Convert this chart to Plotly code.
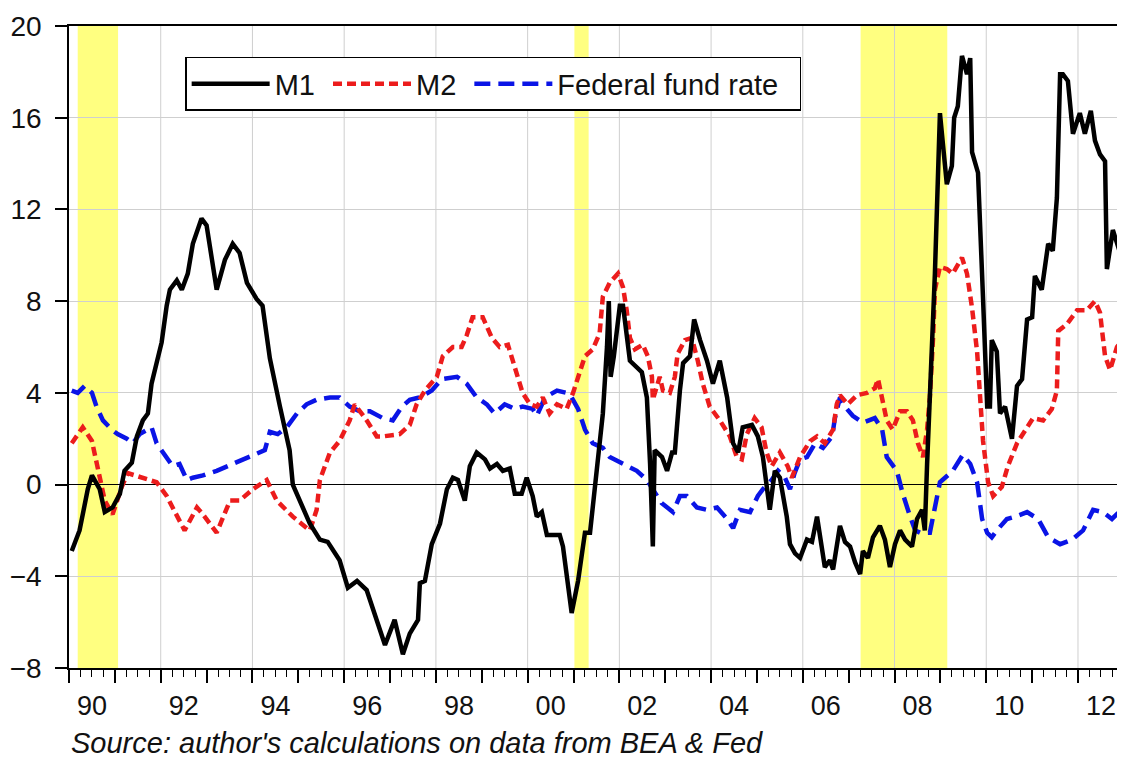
import plotly.graph_objects as go

# ---- data (decimal years, percent) ----
m1_t = [1990.06, 1990.23, 1990.41, 1990.50, 1990.67, 1990.78, 1990.95, 1991.11, 1991.21, 1991.37,
        1991.48, 1991.61, 1991.72, 1991.80, 1991.91, 1992.02, 1992.13, 1992.20, 1992.35, 1992.46,
        1992.59, 1992.70, 1992.89, 1993.00, 1993.22, 1993.40, 1993.57, 1993.72, 1993.88, 1994.09,
        1994.22, 1994.38, 1994.60, 1994.81, 1994.88, 1994.99, 1995.25, 1995.47, 1995.64, 1995.90,
        1996.08, 1996.28, 1996.49, 1996.89, 1997.10, 1997.28, 1997.43, 1997.61, 1997.65, 1997.76,
        1997.91, 1998.09, 1998.24, 1998.37, 1998.48, 1998.63, 1998.74, 1998.89, 1999.07, 1999.18,
        1999.33, 1999.46, 1999.61, 1999.72, 1999.87, 1999.98, 2000.11, 2000.20, 2000.31, 2000.42,
        2000.70, 2000.77, 2000.96, 2001.10, 2001.25, 2001.36, 2001.42, 2001.53, 2001.64, 2001.73,
        2001.77, 2001.81, 2001.88, 2002.01, 2002.08, 2002.23, 2002.40, 2002.49, 2002.60, 2002.67,
        2002.73, 2002.77, 2002.93, 2003.04, 2003.15, 2003.21, 2003.32, 2003.39, 2003.54, 2003.63,
        2003.76, 2003.91, 2004.04, 2004.19, 2004.35, 2004.48, 2004.59, 2004.69, 2004.89, 2005.02,
        2005.13, 2005.28, 2005.39, 2005.50, 2005.65, 2005.72, 2005.83, 2005.94, 2006.09, 2006.20,
        2006.31, 2006.42, 2006.48, 2006.59, 2006.66, 2006.81, 2006.92, 2007.03, 2007.14, 2007.25,
        2007.31, 2007.42, 2007.53, 2007.68, 2007.79, 2007.90, 2008.01, 2008.12, 2008.23, 2008.38,
        2008.49, 2008.60, 2008.66, 2008.71, 2008.77, 2008.88, 2008.99, 2009.14, 2009.25, 2009.30,
        2009.38, 2009.47, 2009.58, 2009.65, 2009.69, 2009.82, 2009.93, 2010.02, 2010.08, 2010.12,
        2010.23, 2010.30, 2010.41, 2010.56, 2010.67, 2010.78, 2010.89, 2011.00, 2011.06, 2011.21,
        2011.35, 2011.45, 2011.54, 2011.61, 2011.67, 2011.78, 2011.89, 2012.04, 2012.15, 2012.28,
        2012.37, 2012.48, 2012.59, 2012.63, 2012.76, 2012.92, 2013.00]
m1_v = [-2.9, -2.0, -0.2, 0.4, -0.2, -1.2, -1.0, -0.4, 0.6, 0.95,
        2.1, 2.8, 3.1, 4.4, 5.3, 6.2, 7.8, 8.5, 8.9, 8.5,
        9.2, 10.5, 11.6, 11.3, 8.5, 9.8, 10.5, 10.1, 8.8, 8.1,
        7.8, 5.5, 3.4, 1.5, 0.0, -0.5, -1.7, -2.4, -2.5, -3.3,
        -4.5, -4.2, -4.6, -7.0, -5.9, -7.4, -6.5, -5.9, -4.3, -4.2,
        -2.6, -1.7, -0.2, 0.3, 0.2, -0.7, 0.8, 1.4, 1.1, 0.7,
        0.9, 0.6, 0.7, -0.4, -0.4, 0.3, -0.5, -1.4, -1.2, -2.2,
        -2.2, -2.7, -5.6, -4.2, -2.1, -2.1, -1.0, 0.8, 3.1, 6.0,
        8.0, 4.7, 5.6, 7.8, 7.8, 5.4, 5.1, 4.9, 3.8, 0.9,
        -2.7, 1.5, 1.2, 0.6, 1.4, 1.4, 4.1, 5.3, 5.6, 7.2,
        6.3, 5.4, 4.4, 5.4, 3.8, 1.8, 1.4, 2.5, 2.6, 2.1,
        1.2, -1.1, 0.6, 0.3, -1.4, -2.6, -3.0, -3.2, -2.4, -2.5,
        -1.4, -2.7, -3.6, -3.3, -3.7, -1.8, -2.5, -2.7, -3.4, -3.9,
        -2.9, -3.2, -2.3, -1.8, -2.4, -3.6, -2.6, -2.0, -2.4, -2.7,
        -1.5, -1.1, -2.0, 0.9, 3.8, 9.2, 16.2, 13.1, 13.9, 16.0,
        16.5, 18.7, 17.9, 18.6, 14.5, 13.6, 8.1, 3.4, 3.4, 6.3,
        5.8, 3.1, 3.4, 2.0, 4.3, 4.6, 7.2, 7.3, 9.1, 8.5,
        10.5, 10.2, 12.5, 17.9, 17.9, 17.6, 15.3, 16.2, 15.3, 16.3,
        15.0, 14.4, 14.1, 9.4, 11.1, 10.1, 11.4]

m2_t = [1990.06, 1990.30, 1990.50, 1990.67, 1990.78, 1990.95, 1991.15, 1991.28, 1991.61, 1991.91,
        1992.13, 1992.52, 1992.79, 1992.92, 1993.22, 1993.51, 1993.72, 1994.01, 1994.31, 1994.53,
        1994.88, 1995.25, 1995.40, 1995.47, 1995.69, 1995.90, 1996.12, 1996.23, 1996.49, 1996.71,
        1996.84, 1997.21, 1997.43, 1997.58, 1997.76, 1998.02, 1998.15, 1998.37, 1998.56, 1998.67,
        1998.80, 1999.02, 1999.22, 1999.39, 1999.57, 1999.76, 1999.89, 2000.05, 2000.20, 2000.33,
        2000.48, 2000.64, 2000.85, 2000.99, 2001.14, 2001.25, 2001.42, 2001.57, 2001.64, 2001.79,
        2001.97, 2002.08, 2002.16, 2002.23, 2002.34, 2002.51, 2002.62, 2002.71, 2002.73, 2002.88,
        2002.95, 2003.10, 2003.21, 2003.27, 2003.43, 2003.58, 2003.71, 2003.82, 2003.97, 2004.19,
        2004.41, 2004.56, 2004.67, 2004.78, 2004.95, 2005.10, 2005.21, 2005.32, 2005.50, 2005.67,
        2005.76, 2005.94, 2006.16, 2006.31, 2006.48, 2006.66, 2006.74, 2006.81, 2006.98, 2007.18,
        2007.40, 2007.57, 2007.64, 2007.73, 2007.83, 2007.96, 2008.12, 2008.27, 2008.40, 2008.51,
        2008.62, 2008.71, 2008.77, 2008.84, 2008.88, 2008.99, 2009.14, 2009.27, 2009.47, 2009.58,
        2009.69, 2009.80, 2009.86, 2009.93, 2010.04, 2010.15, 2010.34, 2010.47, 2010.67, 2010.89,
        2011.02, 2011.24, 2011.43, 2011.54, 2011.57, 2011.76, 2011.98, 2012.19, 2012.37, 2012.48,
        2012.59, 2012.70, 2012.85, 2013.00]
m2_v = [1.8, 2.5, 1.9, 0.3, -0.7, -1.3, -0.1, 0.5, 0.3, 0.1,
        -0.5, -2.0, -1.0, -1.3, -2.1, -0.7, -0.7, -0.2, 0.2, -0.7,
        -1.4, -2.0, -1.1, 0.2, 1.4, 1.9, 2.8, 3.5, 2.8, 2.1,
        2.1, 2.2, 2.6, 3.5, 4.1, 4.7, 5.6, 6.0, 6.0, 6.5,
        7.3, 7.3, 6.4, 6.0, 6.1, 4.9, 4.0, 3.5, 3.4, 3.8,
        3.1, 3.5, 3.3, 4.0, 5.0, 5.6, 5.9, 6.6, 8.2, 8.8,
        9.2, 8.6, 7.6, 6.4, 5.9, 6.1, 5.6, 4.7, 3.7, 4.7,
        4.1, 4.0, 4.7, 5.7, 6.3, 6.4, 5.4, 4.4, 3.4, 2.8,
        2.1, 1.2, 1.1, 2.2, 2.9, 2.5, 1.4, 0.8, 1.4, 0.8,
        0.3, 1.2, 1.9, 2.1, 1.8, 2.4, 3.5, 3.9, 3.5, 3.9,
        4.0, 4.2, 4.6, 3.7, 2.8, 2.4, 3.2, 3.2, 2.8, 1.8,
        1.2, 2.4, 3.8, 6.4, 8.5, 9.5, 9.4, 9.2, 9.9, 9.2,
        7.7, 5.8, 4.0, 1.9, 0.1, -0.5, -0.1, 0.8, 1.8, 2.5,
        2.9, 2.8, 3.3, 4.1, 6.7, 7.0, 7.6, 7.6, 8.0, 7.5,
        5.6, 5.0, 6.0, 6.4]

fed_t = [1990.06, 1990.19, 1990.34, 1990.50, 1990.60, 1990.74, 1990.93, 1991.06, 1991.26, 1991.39,
         1991.54, 1991.80, 1991.91, 1992.04, 1992.26, 1992.41, 1992.57, 1992.70, 1992.92, 1993.22,
         1993.57, 1993.88, 1994.12, 1994.27, 1994.38, 1994.55, 1994.75, 1994.97, 1995.18, 1995.40,
         1995.69, 1995.90, 1996.12, 1996.34, 1996.56, 1996.84, 1997.06, 1997.26, 1997.43, 1997.65,
         1997.91, 1998.13, 1998.46, 1998.67, 1998.89, 1999.11, 1999.28, 1999.50, 1999.72, 1999.89,
         2000.11, 2000.20, 2000.38, 2000.64, 2000.85, 2000.96, 2001.10, 2001.25, 2001.42, 2001.64,
         2001.79, 2002.08, 2002.38, 2002.60, 2002.73, 2002.92, 2003.17, 2003.32, 2003.47, 2003.69,
         2003.91, 2004.13, 2004.35, 2004.48, 2004.63, 2004.85, 2005.02, 2005.13, 2005.32, 2005.46,
         2005.61, 2005.72, 2005.82, 2005.94, 2006.09, 2006.27, 2006.44, 2006.64, 2006.70, 2006.81,
         2006.96, 2007.09, 2007.31, 2007.57, 2007.73, 2007.83, 2008.05, 2008.18, 2008.34, 2008.45,
         2008.56, 2008.77, 2008.99, 2009.27, 2009.49, 2009.65, 2009.80, 2009.91, 2010.02, 2010.12,
         2010.23, 2010.45, 2010.63, 2010.89, 2011.13, 2011.35, 2011.61, 2011.87, 2012.11, 2012.33,
         2012.54, 2012.74, 2013.00]
fed_v = [4.1, 4.0, 4.3, 4.0, 3.4, 2.8, 2.4, 2.2, 2.0, 1.8,
         2.2, 2.5, 1.8, 1.4, 0.8, 0.9, 0.2, 0.3, 0.4, 0.6,
         0.9, 1.2, 1.4, 1.5, 2.3, 2.2, 2.5, 3.1, 3.5, 3.7,
         3.8, 3.8, 3.4, 3.2, 3.2, 2.9, 2.8, 3.4, 3.7, 3.8,
         4.1, 4.6, 4.7, 4.4, 3.8, 3.5, 3.1, 3.5, 3.3, 3.4,
         3.3, 3.0, 3.8, 4.1, 4.0, 3.8, 3.3, 2.4, 1.8, 1.6,
         1.2, 0.9, 0.6, 0.2, -0.2, -0.8, -1.2, -0.5, -0.5, -1.0,
         -1.1, -1.0, -1.5, -1.9, -1.1, -1.2, -0.5, -0.2, 0.2, 0.6,
         0.3, -0.2, 0.5, 1.1, 1.2, 1.8, 1.6, 2.1, 2.9, 3.8,
         3.3, 3.0, 2.7, 2.9, 2.4, 1.2, 0.6, -0.4, -1.4, -2.0,
         -2.1, -2.1, 0.1, 0.6, 1.3, 0.9, 0.1, -1.5, -2.1, -2.3,
         -2.0, -1.5, -1.4, -1.2, -1.5, -2.3, -2.6, -2.4, -2.0, -1.1,
         -1.2, -1.5, -1.0]

recessions = [(1990.19, 1991.07), (2001.02, 2001.33), (2007.26, 2009.15)]
grid_years = [1992, 1994, 1996, 1998, 2000, 2002, 2004, 2006, 2008, 2010, 2012]
year_ticks = list(range(1990, 2014))
year_labels = ["90", "", "92", "", "94", "", "96", "", "98", "", "00", "", "02", "",
               "04", "", "06", "", "08", "", "10", "", "12", ""]
y_ticks = [-8, -4, 0, 4, 8, 12, 16, 20]

FONT = "Arial, Liberation Sans, sans-serif"
NB = "\u00a0"

fig = go.Figure()

fig.add_trace(go.Scatter(x=fed_t, y=fed_v, mode="lines", name="Federal fund rate" + NB * 2,
                         line=dict(color="#0a14e6", width=4.5, dash="16px,8px"), legendrank=3))
fig.add_trace(go.Scatter(x=m2_t, y=m2_v, mode="lines", name="M2" + NB,
                         line=dict(color="#ec1c1c", width=4.5, dash="9px,5px"), legendrank=2))
fig.add_trace(go.Scatter(x=m1_t, y=m1_v, mode="lines", name="M1" + NB,
                         line=dict(color="black", width=4.5), legendrank=1))

# recession shading
for x0, x1 in recessions:
    fig.add_shape(type="rect", xref="x", yref="paper", x0=x0, x1=x1, y0=0, y1=1,
                  fillcolor="#ffff80", line_width=0, layer="below")

# vertical grid every two years
for yr in grid_years:
    fig.add_shape(type="line", xref="x", yref="paper", x0=yr, x1=yr, y0=0, y1=1,
                  line=dict(color="#cfcfcf", width=1), layer="below")

fig.update_xaxes(
    range=[1990.0, 2013.025], automargin=False,
    tickmode="array", tickvals=year_ticks, ticktext=year_labels,
    ticks="outside", ticklen=13, tickwidth=1.5, tickcolor="black",
    ticklabelshift=23,
    minor=dict(tick0=1990, dtick=0.25, ticks="outside", ticklen=7,
               tickwidth=1.2, tickcolor="black", showgrid=False),
    showgrid=False, zeroline=False,
    showline=True, linecolor="black", linewidth=1.5, mirror=True,
    tickfont=dict(family=FONT, size=27, color="#111"),
)
fig.update_yaxes(
    range=[-8, 20], automargin=False,
    tickmode="array", tickvals=y_ticks,
    ticks="outside", ticklen=12, tickwidth=1.5, tickcolor="black",
    ticklabelstandoff=8,
    showgrid=True, gridcolor="#cfcfcf", gridwidth=1,
    zeroline=True, zerolinecolor="black", zerolinewidth=1.2,
    showline=True, linecolor="black", linewidth=1.5, mirror=True,
    tickfont=dict(family=FONT, size=28, color="#111"),
)

fig.add_annotation(text="<i>Source: author's calculations on data from BEA & Fed</i>",
                   xref="paper", yref="paper", x=0.0, y=-0.117,
                   xanchor="left", yanchor="middle", showarrow=False,
                   font=dict(family=FONT, size=29, color="#111"))

# page body adds an 8px margin, so the figure is sized to fit the 1125x760 window
fig.update_layout(
    width=1117, height=752,
    margin=dict(l=61, r=0, t=18, b=92),
    plot_bgcolor="white", paper_bgcolor="white",
    showlegend=True,
    legend=dict(orientation="h", x=0.11, y=0.952, xanchor="left", yanchor="top",
                bgcolor="white", bordercolor="black", borderwidth=1.5,
                font=dict(family=FONT, size=29, color="#111"),
                itemwidth=78),
)

fig.write_html("out.html")
